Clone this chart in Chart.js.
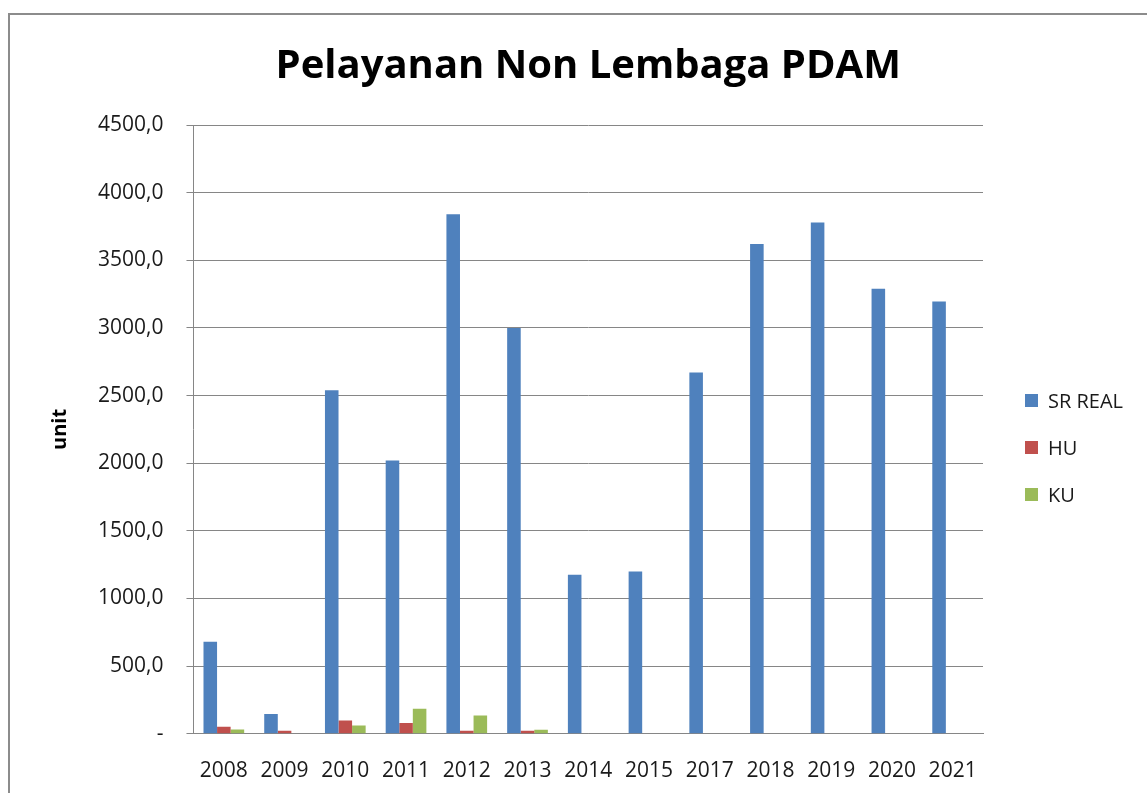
<!DOCTYPE html>
<html>
<head>
<meta charset="utf-8">
<script src="https://cdn.jsdelivr.net/npm/chart.js@4.4.0/dist/chart.umd.min.js"></script>
<style>
  html, body { margin: 0; padding: 0; background: #fff; overflow: hidden; }
  #wrap { position: relative; width: 1147px; height: 793px; overflow: hidden; }
  #frame { position: absolute; left: 8px; top: 13px; width: 1170px; height: 820px; border: 2px solid #8c8c8c; box-sizing: border-box; }
  canvas { position: absolute; left: 0; top: 0; }
</style>
</head>
<body>
<div id="wrap">
  <div id="frame"></div>
  <canvas id="pdamChart" width="1147" height="793"></canvas>
</div>
<script>
// data
const years = ["2008", "2009", "2010", "2011", "2012", "2013", "2014", "2015", "2017", "2018", "2019", "2020", "2021"];
const srReal = [681, 146, 2540, 2020, 3840, 3000, 1175, 1200, 2670, 3620, 3780, 3290, 3195];
const hu = [52, 22, 98, 79, 22, 22, 0, 0, 0, 0, 0, 0, 0];
const ku = [32, 0, 62, 185, 136, 30, 0, 0, 0, 0, 0, 0, 0];
const yMax = 4500;
const yStep = 500;

Chart.defaults.font.family = "'Open Sans', sans-serif";
Chart.defaults.color = "#1a1a1a";

// legend drawn at the right, like the excel one
const sideLegend = {
  id: "sideLegend",
  afterDraw(chart) {
    const ctx = chart.ctx;
    const area = chart.chartArea;
    ctx.save();
    ctx.font = "20px 'Open Sans', sans-serif";
    ctx.textBaseline = "middle";
    chart.data.datasets.forEach((ds, i) => {
      const y = area.top + 276 + i * 47;
      ctx.fillStyle = ds.backgroundColor;
      ctx.fillRect(area.right + 42, y - 7, 13, 13);
      ctx.fillStyle = "#1a1a1a";
      ctx.fillText(ds.label, area.right + 65, y + 1);
    });
    ctx.restore();
  },
};

new Chart(document.getElementById("pdamChart"), {
  type: "bar",
  data: {
    labels: years,
    datasets: [
      { label: "SR REAL", data: srReal, backgroundColor: "#4f81bd" },
      { label: "HU", data: hu, backgroundColor: "#c0504d" },
      { label: "KU", data: ku, backgroundColor: "#9bbb59" },
    ],
  },
  plugins: [sideLegend],
  options: {
    responsive: false,
    animation: false,
    layout: { padding: { left: 22, right: 164, top: 20, bottom: -16 } },
    datasets: { bar: { categoryPercentage: 0.67, barPercentage: 1.0, borderWidth: 0 } },
    plugins: {
      legend: { display: false },
      tooltip: { enabled: false },
      title: {
        display: true,
        text: "Pelayanan Non Lembaga PDAM",
        fullSize: false,
        color: "#000",
        font: { size: 40, weight: "bold" },
        padding: { top: 23, bottom: 34 },
      },
    },
    scales: {
      x: {
        grid: { drawOnChartArea: false, drawTicks: false },
        border: { color: "#868686", width: 1 },
        ticks: { font: { size: 21 }, padding: 25, maxRotation: 0, autoSkip: false },
      },
      y: {
        min: 0,
        max: yMax,
        grid: { color: "#868686", tickLength: 7 },
        border: { color: "#868686" },
        ticks: {
          stepSize: yStep,
          padding: 23,
          font: { size: 21 },
          callback: (v) => (v === 0 ? "-" : v.toFixed(1).replace(".", ",")),
        },
        title: {
          display: true,
          text: "unit",
          color: "#000",
          font: { size: 20, weight: "bold" },
          padding: { top: 26, bottom: 3 },
        },
      },
    },
  },
});
</script>
</body>
</html>
